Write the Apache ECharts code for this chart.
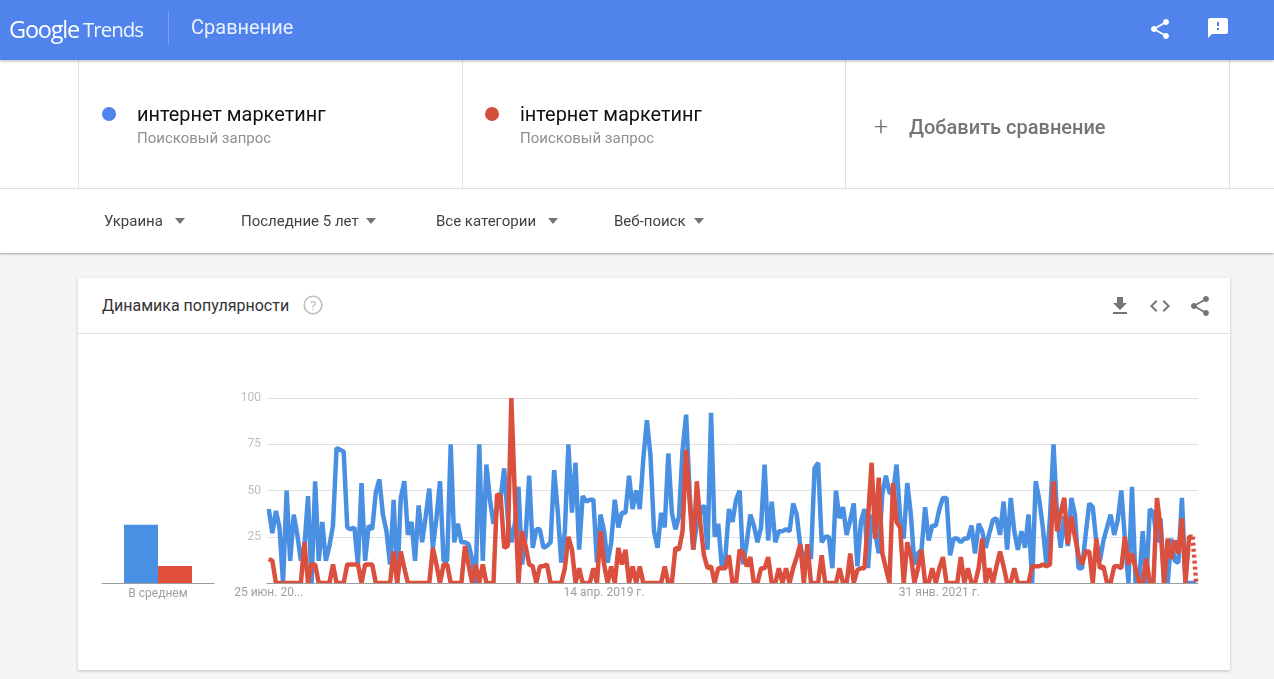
<!DOCTYPE html>
<html lang="ru">
<head>
<meta charset="utf-8">
<title>Google Trends — Сравнение</title>
<script src="https://cdn.jsdelivr.net/npm/echarts@6/dist/echarts.min.js"></script>
<style>
  html, body { margin: 0; padding: 0; width: 1274px; height: 679px; overflow: hidden; background: #f5f5f5;
    font-family: Roboto, "Noto Sans", sans-serif; }
  .abs { position: absolute; white-space: nowrap; line-height: 1; }
  #header { position: absolute; left: 0; top: 0; width: 1274px; height: 60px; background: #5084ec;
    box-shadow: 0 1px 3px rgba(0,0,0,.3); z-index: 3; }
  #compare { position: absolute; left: 0; top: 60px; width: 1274px; height: 193px; background: #fff;
    box-shadow: 0 1px 2px rgba(0,0,0,.35); z-index: 2; }
  .vline { position: absolute; top: 0; width: 1px; height: 128px; background: #e0e0e0; }
  .hline { position: absolute; left: 0; top: 128px; width: 1274px; height: 1px; background: #e0e0e0; }
  .dot { position: absolute; width: 14px; height: 14px; border-radius: 50%; }
  .term { font-size: 19.9px; color: #111; }
  .sub { font-size: 15px; color: #8f8f8f; }
  .filter { font-size: 15px; color: #424242; }
  .caret { position: absolute; width: 0; height: 0; border-left: 5.5px solid transparent;
    border-right: 5.5px solid transparent; border-top: 6px solid #757575; }
  #card { position: absolute; left: 78px; top: 278px; width: 1152px; height: 392px; background: #fff;
    box-shadow: 0 1px 3px rgba(0,0,0,.22); }
  #cardline { position: absolute; left: 0; top: 55px; width: 1152px; height: 1px; background: #e0e0e0; }
  #chart { position: absolute; left: 0; top: 0; width: 1274px; height: 679px; z-index: 1; }
  svg { position: absolute; }
</style>
</head>
<body>
<div id="card">
  <div class="abs" style="left:24px;top:20px;font-size:16px;color:#333">Динамика популярности</div>
  <svg style="left:225px;top:17px" width="20" height="20" viewBox="0 0 20 20">
    <circle cx="10" cy="10" r="8.8" fill="none" stroke="#bdbdbd" stroke-width="1.6"/>
    <text x="10" y="14.6" text-anchor="middle" font-family="Roboto" font-size="13" fill="#bdbdbd">?</text>
  </svg>
  <svg style="left:1030px;top:16px" width="24" height="24" viewBox="0 0 24 24"><path fill="#757575" d="M19 9h-4V3H9v6H5l7 7 7-7zM5 18v2h14v-2H5z"/></svg>
  <svg style="left:1070px;top:16px" width="24" height="24" viewBox="0 0 24 24"><path fill="#757575" d="M9.4 16.6L4.8 12l4.6-4.6L8 6l-6 6 6 6 1.4-1.4zm5.2 0l4.6-4.6-4.6-4.6L16 6l6 6-6 6-1.4-1.4z"/></svg>
  <svg style="left:1110px;top:16px" width="24" height="24" viewBox="0 0 24 24"><path fill="#757575" d="M18 16.08c-.76 0-1.44.3-1.96.77L8.91 12.7c.05-.23.09-.46.09-.7s-.04-.47-.09-.7l7.05-4.11c.54.5 1.25.81 2.04.81 1.66 0 3-1.34 3-3s-1.34-3-3-3-3 1.34-3 3c0 .24.04.47.09.7L8.04 9.81C7.5 9.31 6.79 9 6 9c-1.66 0-3 1.34-3 3s1.34 3 3 3c.79 0 1.5-.31 2.04-.81l7.12 4.16c-.05.21-.08.43-.08.65 0 1.61 1.31 2.92 2.92 2.92 1.61 0 2.92-1.31 2.92-2.92s-1.31-2.92-2.92-2.92z"/></svg>
  <div id="cardline"></div>
</div>

<div id="chart"></div>

<div id="header">
  <div class="abs" style="left:9px;top:18px;font-family:'Open Sans';font-size:23.5px;color:#fff;letter-spacing:-1.2px">Google</div>
  <div class="abs" style="left:83px;top:19px;font-family:'Open Sans';font-size:20.5px;color:rgba(255,255,255,.92);letter-spacing:-1px">Trends</div>
  <div style="position:absolute;left:168px;top:12px;width:1px;height:32px;background:rgba(255,255,255,.25)"></div>
  <div class="abs" style="left:191px;top:17px;font-size:20px;color:rgba(255,255,255,.88)">Сравнение</div>
  <svg style="left:1148px;top:17px" width="24" height="24" viewBox="0 0 24 24"><path fill="#fff" d="M18 16.08c-.76 0-1.44.3-1.96.77L8.91 12.7c.05-.23.09-.46.09-.7s-.04-.47-.09-.7l7.05-4.11c.54.5 1.25.81 2.04.81 1.66 0 3-1.34 3-3s-1.34-3-3-3-3 1.34-3 3c0 .24.04.47.09.7L8.04 9.81C7.5 9.31 6.79 9 6 9c-1.66 0-3 1.34-3 3s1.34 3 3 3c.79 0 1.5-.31 2.04-.81l7.12 4.16c-.05.21-.08.43-.08.65 0 1.61 1.31 2.92 2.92 2.92 1.61 0 2.92-1.31 2.92-2.92s-1.31-2.92-2.92-2.92z"/></svg>
  <svg style="left:1206px;top:16px" width="24" height="24" viewBox="0 0 24 24"><path fill="#fff" d="M20 2H4c-1.1 0-1.99.9-1.99 2L2 22l4-4h14c1.1 0 2-.9 2-2V4c0-1.1-.9-2-2-2zm-7 12h-2v-2h2v2zm0-4h-2V6h2v4z"/></svg>
</div>

<div id="compare">
  <div class="vline" style="left:78px"></div>
  <div class="vline" style="left:462px"></div>
  <div class="vline" style="left:845px"></div>
  <div class="vline" style="left:1229px"></div>
  <div class="hline"></div>
  <div class="dot" style="left:102px;top:47px;background:#5084ec"></div>
  <div class="abs term" style="left:137px;top:45px">интернет маркетинг</div>
  <div class="abs sub" style="left:137px;top:71px">Поисковый запрос</div>
  <div class="dot" style="left:485px;top:47px;background:#d05040"></div>
  <div class="abs term" style="left:520px;top:45px">інтернет маркетинг</div>
  <div class="abs sub" style="left:520px;top:71px">Поисковый запрос</div>
  <div class="abs" style="left:874px;top:54px;font-size:25px;font-weight:300;color:#757575">+</div>
  <div class="abs" style="left:909px;top:57px;font-size:20px;font-weight:500;color:#757575">Добавить сравнение</div>
  <div class="abs filter" style="left:104px;top:154px">Украина</div>
  <div class="caret" style="left:175px;top:158px"></div>
  <div class="abs filter" style="left:241px;top:154px">Последние 5 лет</div>
  <div class="caret" style="left:366px;top:158px"></div>
  <div class="abs filter" style="left:436px;top:154px">Все категории</div>
  <div class="caret" style="left:548px;top:158px"></div>
  <div class="abs filter" style="left:614px;top:154px">Веб-поиск</div>
  <div class="caret" style="left:694px;top:158px"></div>
</div>

<script>
// Weekly search interest, 0-100, one value per week over five years.
const russianTerm = [
  40,27,39,30,0,50,12,37,26,12,
  20,47,0,55,12,33,12,20,31,73,
  72,71,30,29,30,10,54,12,31,29,
  49,56,37,28,10,45,0,46,55,26,
  33,12,42,22,36,51,19,35,55,12,
  12,75,22,32,22,22,21,13,0,75,
  12,64,45,32,40,46,62,35,22,32,
  52,10,25,58,19,29,29,19,20,22,
  61,39,11,28,75,38,65,18,47,44,
  45,45,11,37,28,11,22,45,30,38,
  38,58,40,50,40,67,88,69,28,19,
  38,30,70,38,29,36,72,91,48,18,
  32,38,42,18,92,25,32,9,14,40,
  33,45,50,10,22,37,31,22,30,64,
  23,44,22,28,28,29,28,43,37,20,
  13,17,13,62,65,22,25,25,8,50,
  35,41,26,34,43,9,33,40,8,37,
  27,16,48,58,49,48,64,35,24,54,
  37,10,16,18,41,23,31,31,40,46,
  46,15,24,24,22,24,24,31,16,32,
  28,19,27,34,35,26,44,18,46,28,
  18,28,19,37,0,55,45,30,10,35,
  75,36,19,36,20,46,37,8,8,26,
  43,41,22,12,23,30,37,26,34,50,
  24,0,52,0,0,28,0,40,38,22,
  35,0,0,24,12,11,46,0,0,0,
  0
];
const ukrainianTerm = [
  13,12,0,0,0,0,0,0,0,0,
  22,0,10,10,0,0,0,0,10,0,
  0,0,10,10,10,10,0,10,10,10,
  0,0,0,0,0,17,0,17,8,0,
  0,0,0,0,0,0,19,10,0,10,
  10,0,0,0,0,20,10,0,10,0,
  10,0,0,0,48,47,19,20,100,46,
  0,28,20,10,9,0,9,9,10,0,
  0,0,0,8,25,18,0,8,0,0,
  0,8,0,28,10,0,9,0,19,10,
  18,0,9,0,9,0,0,0,0,0,
  0,9,0,0,19,18,28,72,44,18,
  55,32,15,8,9,0,8,8,8,15,
  0,0,18,16,9,14,0,0,8,8,
  14,0,0,8,0,8,0,8,14,21,
  0,21,0,0,0,15,0,0,0,0,
  8,0,0,16,0,7,8,8,35,65,
  24,57,16,8,0,54,33,30,0,22,
  15,0,8,18,0,0,8,0,8,14,
  0,0,0,0,14,0,8,0,0,8,
  24,0,8,0,9,17,9,0,0,8,
  0,0,0,0,9,9,9,10,9,10,
  55,28,38,46,21,36,25,15,10,17,
  17,0,24,8,9,0,0,9,9,8,
  25,10,16,8,0,0,13,0,0,46,
  30,0,24,13,23,16,35,0,25,25,
  0
];
const averages = [31.5, 9.2];
const averageLabel = 'В среднем';
const termNames = ['интернет маркетинг', 'інтернет маркетинг'];
const firstWeek = '2017-06-25';
const dateTicks = {
  '2017-06-25': '25 июн. 20...',
  '2019-04-14': '14 апр. 2019 г.',
  '2021-01-31': '31 янв. 2021 г.'
};

const BLUE = '#4a90e2', RED = '#db4f3f';

// Week-start dates for the category axis.
const weeks = russianTerm.map((_, i) => {
  const d = new Date(firstWeek + 'T00:00:00Z');
  d.setUTCDate(d.getUTCDate() + 7 * i);
  return d.toISOString().slice(0, 10);
});

// The newest point is a partial week: it joins the line with a dotted segment.
const last = ukrainianTerm.length - 1;
const redSolid = ukrainianTerm.map((v, i) => (i < last ? v : null));
const redPartial = ukrainianTerm.map((v, i) => (i >= last - 1 ? v : null));

const labelFont = { fontFamily: 'Roboto', fontSize: 12 };
const PLOT_TOP = 398, PLOT_BOTTOM = 583;

const chart = echarts.init(document.getElementById('chart'), null, { renderer: 'canvas' });
chart.setOption({
  animation: false,
  backgroundColor: 'transparent',
  grid: [
    { left: 102, width: 112, top: PLOT_TOP, height: PLOT_BOTTOM - PLOT_TOP },
    { left: 267, width: 931, top: PLOT_TOP, height: PLOT_BOTTOM - PLOT_TOP }
  ],
  xAxis: [
    {
      gridIndex: 0, type: 'category', data: [averageLabel], z: 5,
      axisLine: { lineStyle: { color: '#9e9e9e', width: 1 } },
      axisTick: { show: false },
      axisLabel: { ...labelFont, color: '#9e9e9e', margin: 5 }
    },
    {
      gridIndex: 1, type: 'category', data: weeks, z: 5,
      axisLine: { lineStyle: { color: '#9e9e9e', width: 1 } },
      axisTick: { show: false },
      axisLabel: {
        ...labelFont, color: '#9e9e9e', margin: 4, hideOverlap: false,
        interval: (i, name) => name in dateTicks,
        formatter: name => dateTicks[name] || ''
      }
    }
  ],
  yAxis: [
    { gridIndex: 0, type: 'value', min: 0, max: 100, show: false },
    {
      gridIndex: 1, type: 'value', min: 0, max: 100, interval: 25,
      axisLine: { show: false }, axisTick: { show: false },
      axisLabel: { ...labelFont, color: '#bdbdbd', margin: 6, padding: [2, 0, 0, 0],
        formatter: v => (v === 0 ? '' : String(v)) },
      splitLine: { lineStyle: { color: '#e0e0e0', width: 1 } }
    }
  ],
  series: [
    { name: termNames[0], type: 'bar', xAxisIndex: 0, yAxisIndex: 0, data: [averages[0]],
      barWidth: 34, barGap: 0, itemStyle: { color: BLUE } },
    { name: termNames[1], type: 'bar', xAxisIndex: 0, yAxisIndex: 0, data: [averages[1]],
      barWidth: 34, barGap: 0, itemStyle: { color: '#e0503c' } },
    { name: termNames[0], type: 'line', xAxisIndex: 1, yAxisIndex: 1, data: russianTerm,
      showSymbol: false, symbol: 'none', z: 2, lineStyle: { color: BLUE, width: 4.5, join: 'bevel' } },
    { name: termNames[1], type: 'line', xAxisIndex: 1, yAxisIndex: 1, data: redSolid,
      showSymbol: false, symbol: 'none', z: 3, lineStyle: { color: RED, width: 4.5, join: 'bevel' } },
    { name: termNames[1], type: 'line', xAxisIndex: 1, yAxisIndex: 1, data: redPartial,
      showSymbol: false, symbol: 'none', z: 3, lineStyle: { color: RED, width: 4.5, type: [3, 3] } }
  ],
  // Thin white strips trim the stroke overhang above 100 and below the baseline.
  graphic: [
    { type: 'rect', z: 4, silent: true, shape: { x: 262, y: PLOT_TOP - 3, width: 940, height: 3 }, style: { fill: '#fff' } },
    { type: 'rect', z: 4, silent: true, shape: { x: 262, y: PLOT_BOTTOM + 1, width: 940, height: 3 }, style: { fill: '#fff' } }
  ]
});
</script>
</body>
</html>
